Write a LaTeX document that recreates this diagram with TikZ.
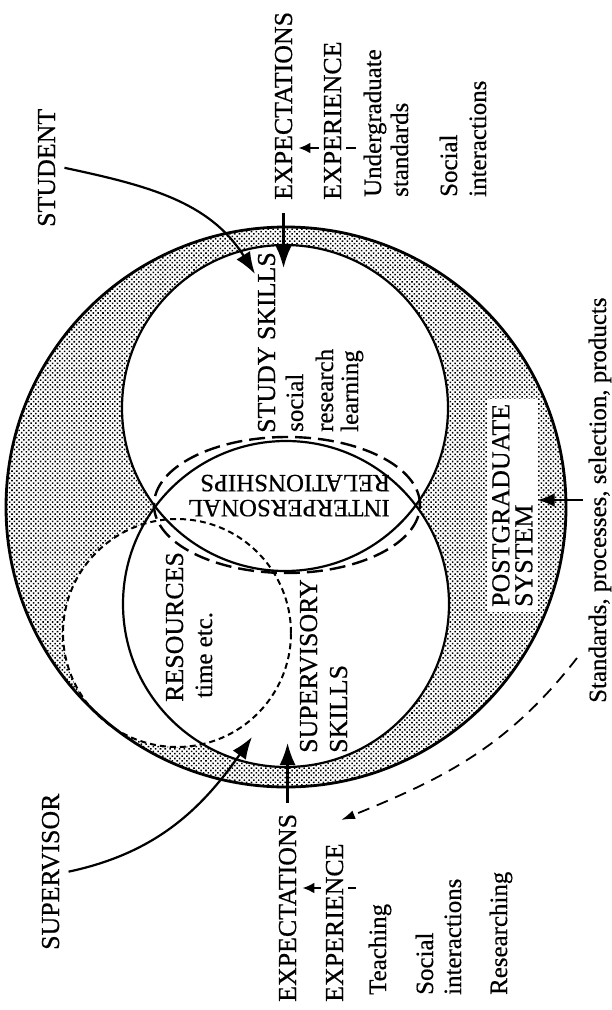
\documentclass[tikz,border=0pt]{standalone}
\usepackage{fontspec}
\setmainfont{Liberation Serif}[BoldFont={Liberation Serif}, BoldFeatures={FakeBold=0.5}]
\usetikzlibrary{arrows.meta,patterns.meta}
\tikzdeclarepattern{
  name=halftone,
  type=uncolored,
  bounding box={(-1.7pt,-1.7pt) and (1.7pt,1.7pt)},
  tile size={(3.4pt,3.4pt)},
  tile transformation={rotate=45},
  code={\fill (0pt,0pt) circle[radius=1.1pt];}
}
\begin{document}
\begin{tikzpicture}[
  x=1bp, y=1bp,
  every node/.style={inner sep=0pt, font=\fontsize{25}{30}\selectfont\bfseries},
  lbl/.style={rotate=90, anchor=base west},
  caps/.style={lbl, font=\fontsize{26}{30}\selectfont\bfseries},
  usd/.style={rotate=180, anchor=base west, font=\fontsize{25}{30}\selectfont\bfseries},
  rim/.style={draw, line width=2.8bp},
  disc/.style={draw, line width=2.2bp},
  rel/.style={draw, line width=2.4bp, dash pattern=on 16bp off 7bp},
  res/.style={draw, line width=2bp, dash pattern=on 6bp off 4bp},
  bigarrow/.style={draw, line width=2.2bp, -{Latex[length=22bp,width=16bp]}},
  smallarrow/.style={draw, line width=2.2bp, -{Latex[length=12bp,width=11bp]}},
  midarrow/.style={draw, line width=2.4bp, -{Latex[length=17bp,width=14bp]}},
  dasharrow/.style={draw, line width=1.8bp, dash pattern=on 12bp off 8bp, -{Latex[length=14bp,width=9bp]}}
]
\useasboundingbox (0,0) rectangle (612,-1010);
\fill[pattern=halftone] (286,-507) circle[radius=280];
\fill[white] (285,-408) circle[radius=163] (286,-604) circle[radius=163] (177,-633) circle[radius=114];
\draw[rim] (286,-507) circle[radius=280];
\draw[disc] (285,-408) circle[radius=163];
\draw[disc] (286,-604) circle[radius=163];
\draw[rel] (287,-505) ellipse[x radius=133, y radius=68];
\draw[res] (177,-633) circle[radius=114];

\node[caps] (student) at (55,-227) {STUDENT};
\node[caps] (superv) at (59,-950) {SUPERVISOR};

\node[caps] (et1) at (292,-200) {EXPECTATIONS};
\coordinate (t1) at (356,-148);
\draw[smallarrow, shorten >=6bp] (t1) -- (t1 -| et1.south);
\node[caps, fill=white, inner ysep=5bp] (ex1) at (341,-200) {EXPERIENCE};
\node[lbl] (ug) at (381,-197) {Undergraduate};
\node[lbl] (std) at (408,-197) {standards};
\node[lbl] (soc1) at (457,-197) {Social};
\node[lbl] (int1) at (486,-197) {interactions};

\node[caps] (et2) at (296,-1002) {EXPECTATIONS};
\coordinate (t2) at (356,-888);
\draw[smallarrow, shorten >=6bp] (t2) -- (t2 -| et2.south);
\node[caps, fill=white, inner ysep=5bp] (ex2) at (343,-1002) {EXPERIENCE};
\node[lbl] (teach) at (386,-995) {Teaching};
\node[lbl] (soc2) at (433,-995) {Social};
\node[lbl] (int2) at (461,-995) {interactions};
\node[lbl] (resch) at (507,-995) {Researching};

\node[caps] (study) at (275,-433) {STUDY SKILLS};
\node[lbl] (social) at (303,-432) {social};
\node[lbl] (research) at (333,-432) {research};
\node[lbl] (learning) at (358,-432) {learning};

\node[usd] (ip1) at (390,-500) {INTERPERSONAL};
\node[usd] (ip2) at (390,-475) {RELATIONSHIPS};

\node[caps] (resrc) at (183,-702) {RESOURCES};
\node[lbl] (time) at (212,-698) {time etc.};
\node[caps] (sup1) at (317,-753) {SUPERVISORY};
\node[caps] (sup2) at (347,-753) {SKILLS};

\node[caps, anchor=north west, fill=white, inner sep=5bp, align=left,
  font=\fontsize{26}{23}\selectfont\bfseries] (post) at (487,-612) {POSTGRADUATE\\SYSTEM};
\node[lbl] (stand) at (606,-703) {Standards, processes, selection, products};

\coordinate (tipS) at (255,-274);
\coordinate (tipV) at (252,-737);
\coordinate (tipT) at (284,-268);
\coordinate (tipB) at (288,-743);
\coordinate (p1) at (583,-500);
\coordinate (d1) at (577,-658);
\coordinate (d2) at (341,-820);

\draw[bigarrow] ([xshift=9bp]student.south) to[out=-12,in=122] (tipS);
\draw[bigarrow] ([xshift=9bp]superv.south) to[out=12,in=-125] (tipV);
\draw[bigarrow, shorten <=13bp] (et1.west) -- (et1.west |- tipT);
\draw[bigarrow, shorten <=11bp] (et2.east) -- (et2.east |- tipB);
\draw[midarrow] (p1) -- (p1 -| post.south);
\draw[dasharrow] (d1) to[out=-128,in=22] (d2);
\end{tikzpicture}
\end{document}
